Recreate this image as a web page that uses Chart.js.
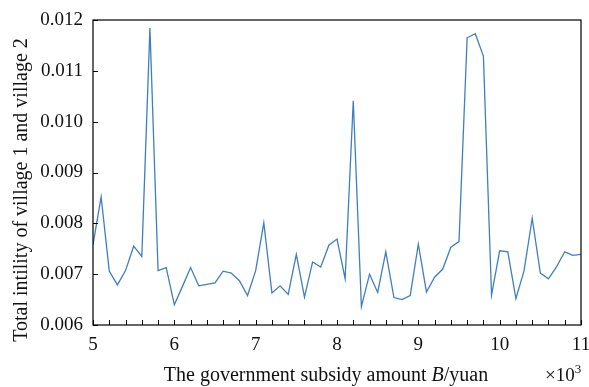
<!DOCTYPE html>
<html lang="en">
<head>
  <meta charset="UTF-8" />
  <title>Total utility vs government subsidy</title>
  <script src="https://cdn.jsdelivr.net/npm/chart.js"></script>
  <style>
    html, body { margin: 0; padding: 0; background: #fff; }
    #wrap { width: 589px; height: 387px; }
  </style>
</head>
<body>
  <div id="wrap"><canvas id="chart"></canvas></div>

  <script>
    // subsidy amount B (x10^3 yuan)
    const subsidy = [
      5.0, 5.1, 5.2, 5.3, 5.4, 5.5, 5.6, 5.7, 5.8, 5.9,
      6.0, 6.1, 6.2, 6.3, 6.4, 6.5, 6.6, 6.7, 6.8, 6.9,
      7.0, 7.1, 7.2, 7.3, 7.4, 7.5, 7.6, 7.7, 7.8, 7.9,
      8.0, 8.1, 8.2, 8.3, 8.4, 8.5, 8.6, 8.7, 8.8, 8.9,
      9.0, 9.1, 9.2, 9.3, 9.4, 9.5, 9.6, 9.7, 9.8, 9.9,
      10.0, 10.1, 10.2, 10.3, 10.4, 10.5, 10.6, 10.7, 10.8, 10.9,
      11.0
    ];
    // total utility of village 1 and village 2
    const totalUtility = [
      0.00758, 0.00852, 0.00706, 0.00679, 0.00707, 0.00755, 0.00735, 0.01184, 0.00707, 0.00713,
      0.00640, 0.00676, 0.00713, 0.00677, 0.00680, 0.00683, 0.00706, 0.00702, 0.00687, 0.00658,
      0.00707, 0.00801, 0.00663, 0.00677, 0.00660, 0.00739, 0.00655, 0.00724, 0.00714, 0.00757,
      0.00769, 0.00691, 0.01041, 0.00636, 0.00700, 0.00664, 0.00744, 0.00654, 0.00650, 0.00658,
      0.00759, 0.00665, 0.00694, 0.00710, 0.00753, 0.00764, 0.01165, 0.01173, 0.01129, 0.00659,
      0.00746, 0.00744, 0.00652, 0.00707, 0.00810, 0.00702, 0.00691, 0.00715, 0.00744, 0.00737,
      0.00739
    ];
    const xTicks = [5, 5.2, 5.4, 5.6, 5.8, 6, 6.2, 6.4, 6.6, 6.8, 7, 7.2, 7.4, 7.6, 7.8, 8,
                    8.2, 8.4, 8.6, 8.8, 9, 9.2, 9.4, 9.6, 9.8, 10, 10.2, 10.4, 10.6, 10.8, 11];
    const yTicks = [0.006, 0.007, 0.008, 0.009, 0.010, 0.011, 0.012];

    const SERIF = '"Liberation Serif", "Times New Roman", serif';

    // frame, inward tick marks and axis titles
    const framePlugin = {
      id: 'frame',
      afterDraw(chart) {
        const { ctx, chartArea: a, scales: { x, y } } = chart;
        ctx.save();
        ctx.strokeStyle = '#000';
        ctx.lineWidth = 1.2;
        ctx.strokeRect(a.left, a.top, a.right - a.left, a.bottom - a.top);

        ctx.lineWidth = 1;
        ctx.beginPath();
        xTicks.forEach(v => {
          const px = Math.round(x.getPixelForValue(v)) + 0.5;
          ctx.moveTo(px, a.bottom);
          ctx.lineTo(px, a.bottom - 5);
        });
        yTicks.forEach(v => {
          const py = Math.round(y.getPixelForValue(v)) + 0.5;
          ctx.moveTo(a.left, py);
          ctx.lineTo(a.left + 5, py);
        });
        ctx.stroke();

        ctx.fillStyle = '#111';
        // x title with italic B
        const parts = [
          ['The government subsidy amount ', `20px ${SERIF}`],
          ['B', `italic 20px ${SERIF}`],
          ['/yuan', `20px ${SERIF}`]
        ];
        let total = 0;
        parts.forEach(([t, f]) => { ctx.font = f; total += ctx.measureText(t).width; });
        let cx = 326 - total / 2;
        ctx.textBaseline = 'alphabetic';
        ctx.textAlign = 'left';
        parts.forEach(([t, f]) => {
          ctx.font = f;
          ctx.fillText(t, cx, 381);
          cx += ctx.measureText(t).width;
        });

        // x10^3
        ctx.font = `19px ${SERIF}`;
        ctx.fillText('\u00d710', 545, 381);
        const w = ctx.measureText('\u00d710').width;
        ctx.font = `13px ${SERIF}`;
        ctx.fillText('3', 545 + w, 373);

        // y title
        ctx.translate(22, 190);
        ctx.rotate(-Math.PI / 2);
        ctx.textAlign = 'center';
        ctx.textBaseline = 'middle';
        ctx.font = `20px ${SERIF}`;
        ctx.fillText('Total intility of village 1 and village 2', 0, 0);
        ctx.restore();
      }
    };

    new Chart(document.getElementById('chart'), {
      type: 'line',
      data: {
        datasets: [{
          data: subsidy.map((b, i) => ({ x: b, y: totalUtility[i] })),
          borderColor: '#3f7fbf',
          borderWidth: 1.3,
          pointRadius: 0,
          tension: 0,
          fill: false
        }]
      },
      options: {
        responsive: true,
        maintainAspectRatio: false,
        animation: false,
        layout: { padding: { left: 0, right: 8, top: 20, bottom: 0 } },
        plugins: {
          legend: { display: false },
          tooltip: { enabled: false }
        },
        scales: {
          x: {
            type: 'linear',
            min: 5,
            max: 11,
            afterBuildTicks: s => { s.ticks = xTicks.map(v => ({ value: v })); },
            afterFit: s => { s.height = 62; s.paddingLeft = 0; s.paddingRight = 0; },
            grid: { display: false, drawTicks: false },
            border: { display: false },
            ticks: {
              autoSkip: false,
              maxRotation: 0,
              padding: 9,
              color: '#111',
              font: { family: SERIF, size: 19 },
              callback: v => Math.abs(v - Math.round(v)) < 1e-6 ? String(Math.round(v)) : ''
            }
          },
          y: {
            min: 0.006,
            max: 0.012,
            afterBuildTicks: s => { s.ticks = yTicks.map(v => ({ value: v })); },
            afterFit: s => { s.width = 93; s.paddingTop = 0; s.paddingBottom = 0; },
            grid: { display: false, drawTicks: false },
            border: { display: false },
            ticks: {
              padding: 10,
              color: '#111',
              font: { family: SERIF, size: 19 },
              callback: v => v.toFixed(3)
            }
          }
        }
      },
      plugins: [framePlugin]
    });
  </script>
</body>
</html>
